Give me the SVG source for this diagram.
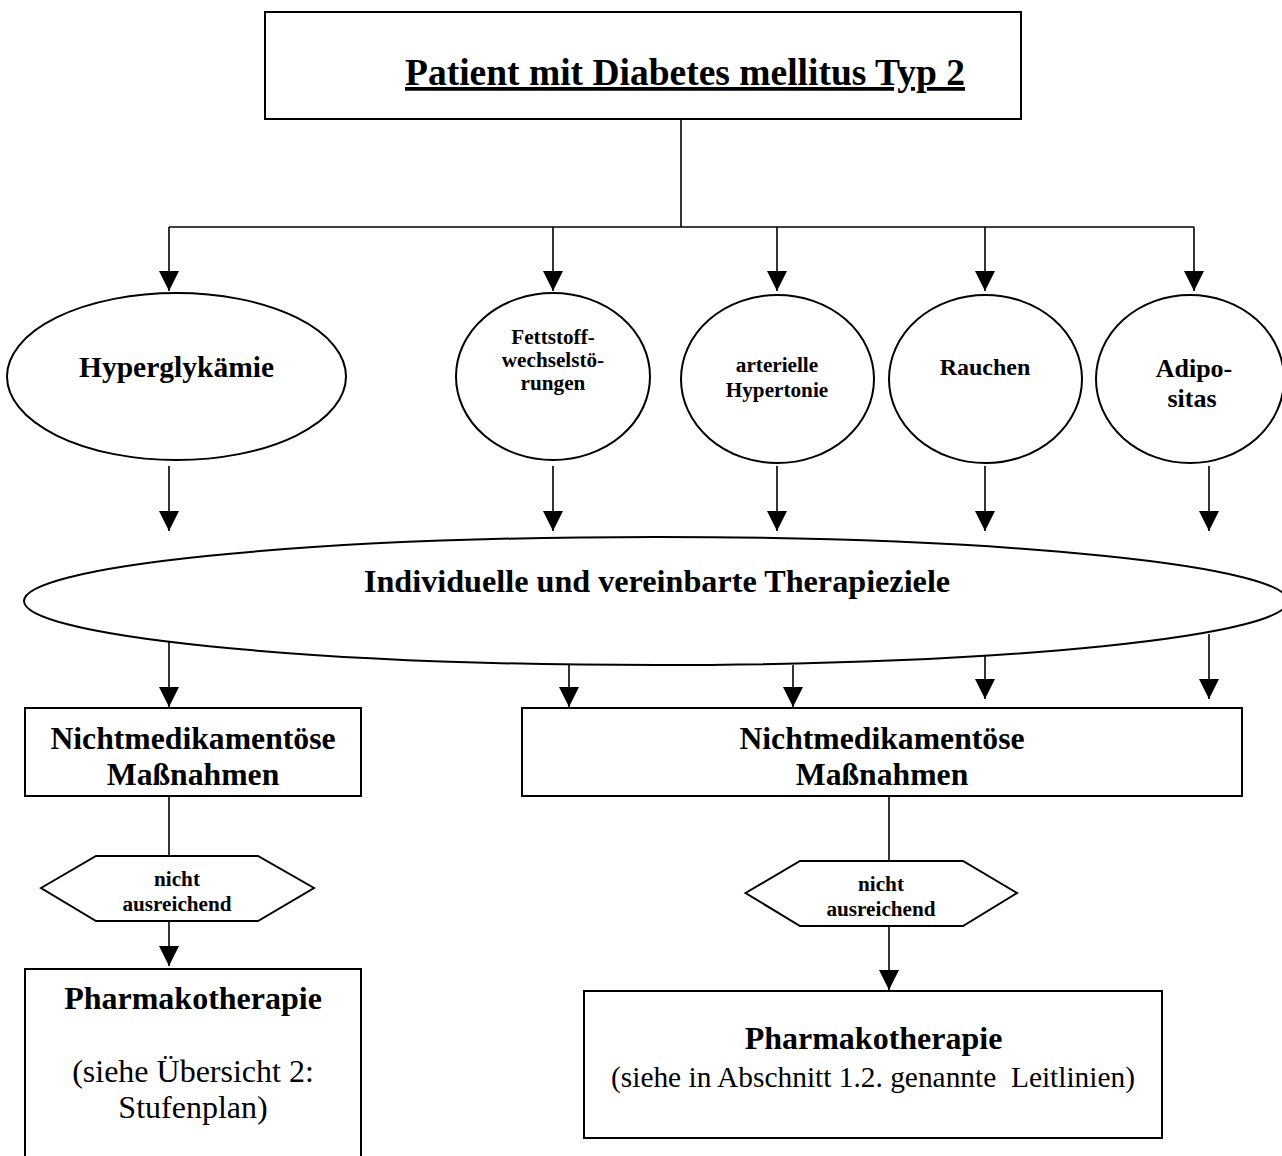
<svg xmlns="http://www.w3.org/2000/svg" width="1282" height="1156" viewBox="0 0 1282 1156">
<style>
.shape{fill:#fff;stroke:#000;stroke-width:2}
.con{fill:none;stroke:#000;stroke-width:1.6}
.b{font-family:"Liberation Serif","Times New Roman",serif;font-weight:bold;fill:#000;text-anchor:middle}
.r{font-family:"Liberation Serif","Times New Roman",serif;font-weight:normal;fill:#000;text-anchor:middle}
</style>
<defs>
<marker id="ah" markerWidth="20" markerHeight="20" refX="20" refY="10" orient="auto" markerUnits="userSpaceOnUse"><path d="M0,0 L20,10 L0,20 z" fill="#000"/></marker>
</defs>
<rect width="1282" height="1156" fill="#fff"/>
<g id="connectors">
<line class="con" x1="681" y1="119" x2="681" y2="227"/>
<line class="con" x1="169" y1="227" x2="1194" y2="227"/>
<line class="con" x1="169" y1="227" x2="169" y2="291" marker-end="url(#ah)"/>
<line class="con" x1="553" y1="227" x2="553" y2="291" marker-end="url(#ah)"/>
<line class="con" x1="777" y1="227" x2="777" y2="291" marker-end="url(#ah)"/>
<line class="con" x1="985" y1="227" x2="985" y2="291" marker-end="url(#ah)"/>
<line class="con" x1="1194" y1="227" x2="1194" y2="291" marker-end="url(#ah)"/>
<line class="con" x1="169" y1="466" x2="169" y2="531" marker-end="url(#ah)"/>
<line class="con" x1="553" y1="466" x2="553" y2="531" marker-end="url(#ah)"/>
<line class="con" x1="777" y1="466" x2="777" y2="531" marker-end="url(#ah)"/>
<line class="con" x1="985" y1="466" x2="985" y2="531" marker-end="url(#ah)"/>
<line class="con" x1="1209" y1="466" x2="1209" y2="531" marker-end="url(#ah)"/>
<line class="con" x1="169" y1="642" x2="169" y2="707" marker-end="url(#ah)"/>
<line class="con" x1="569" y1="665" x2="569" y2="707" marker-end="url(#ah)"/>
<line class="con" x1="793" y1="665" x2="793" y2="707" marker-end="url(#ah)"/>
<line class="con" x1="985" y1="656" x2="985" y2="699" marker-end="url(#ah)"/>
<line class="con" x1="1209" y1="634" x2="1209" y2="699" marker-end="url(#ah)"/>
<line class="con" x1="169" y1="796" x2="169" y2="856"/>
<line class="con" x1="169" y1="921" x2="169" y2="966" marker-end="url(#ah)"/>
<line class="con" x1="889" y1="796" x2="889" y2="861"/>
<line class="con" x1="889" y1="926" x2="889" y2="990" marker-end="url(#ah)"/>
</g>
<g id="patient">
<rect class="shape" x="265" y="12" width="756" height="107"/>
<text class="b" x="685" y="85" font-size="37.5" text-decoration="underline">Patient mit Diabetes mellitus Typ 2</text>
</g>
<g id="hyperglykaemie">
<ellipse class="shape" cx="176.5" cy="376.5" rx="169.5" ry="83.5"/>
<text class="b" x="176.5" y="377" font-size="29.5">Hyperglykämie</text>
</g>
<g id="fettstoff">
<ellipse class="shape" cx="553" cy="376.5" rx="97" ry="83.5"/>
<text class="b" x="553" y="344" font-size="21.2">Fettstoff-</text>
<text class="b" x="553" y="367" font-size="21.2">wechselstö-</text>
<text class="b" x="553" y="390" font-size="21.2">rungen</text>
</g>
<g id="hypertonie">
<ellipse class="shape" cx="777.5" cy="379" rx="96.5" ry="84"/>
<text class="b" x="777" y="372" font-size="21.2">arterielle</text>
<text class="b" x="777" y="397" font-size="21.2">Hypertonie</text>
</g>
<g id="rauchen">
<ellipse class="shape" cx="985.5" cy="379" rx="96.5" ry="84"/>
<text class="b" x="985" y="375" font-size="24">Rauchen</text>
</g>
<g id="adipositas">
<ellipse class="shape" cx="1190" cy="379" rx="94" ry="84"/>
<text class="b" x="1194" y="377" font-size="26">Adipo-</text>
<text class="b" x="1192" y="407" font-size="26">sitas</text>
</g>
<g id="therapieziele">
<ellipse class="shape" cx="656" cy="601" rx="632" ry="64"/>
<text class="b" x="657" y="592" font-size="32.2">Individuelle und vereinbarte Therapieziele</text>
</g>
<g id="massnahmen-links">
<rect class="shape" x="25" y="708" width="336" height="88"/>
<text class="b" x="193" y="749" font-size="31.7">Nichtmedikamentöse</text>
<text class="b" x="193" y="785" font-size="31.7">Maßnahmen</text>
</g>
<g id="massnahmen-rechts">
<rect class="shape" x="522" y="708" width="720" height="88"/>
<text class="b" x="882" y="749" font-size="31.7">Nichtmedikamentöse</text>
<text class="b" x="882" y="785" font-size="31.7">Maßnahmen</text>
</g>
<g id="nicht-ausreichend-links">
<polygon class="shape" points="41,888 96,856 258,856 314,888 258,921 96,921"/>
<text class="b" x="177" y="886" font-size="21.2">nicht</text>
<text class="b" x="177" y="911" font-size="21.2">ausreichend</text>
</g>
<g id="nicht-ausreichend-rechts">
<polygon class="shape" points="745.5,893 800,861 963,861 1017,893 963,926 800,926"/>
<text class="b" x="881" y="891" font-size="21.2">nicht</text>
<text class="b" x="881" y="916" font-size="21.2">ausreichend</text>
</g>
<g id="pharmako-links">
<rect class="shape" x="25" y="969" width="336" height="200"/>
<text class="b" x="193" y="1009" font-size="32">Pharmakotherapie</text>
<text class="r" x="193" y="1082" font-size="32">(siehe Übersicht 2:</text>
<text class="r" x="193" y="1118" font-size="32">Stufenplan)</text>
</g>
<g id="pharmako-rechts">
<rect class="shape" x="584" y="991" width="578" height="147"/>
<text class="b" x="873.5" y="1049" font-size="32">Pharmakotherapie</text>
<text class="r" x="873" y="1087" font-size="29.4" xml:space="preserve">(siehe in Abschnitt 1.2. genannte  Leitlinien)</text>
</g>
</svg>
